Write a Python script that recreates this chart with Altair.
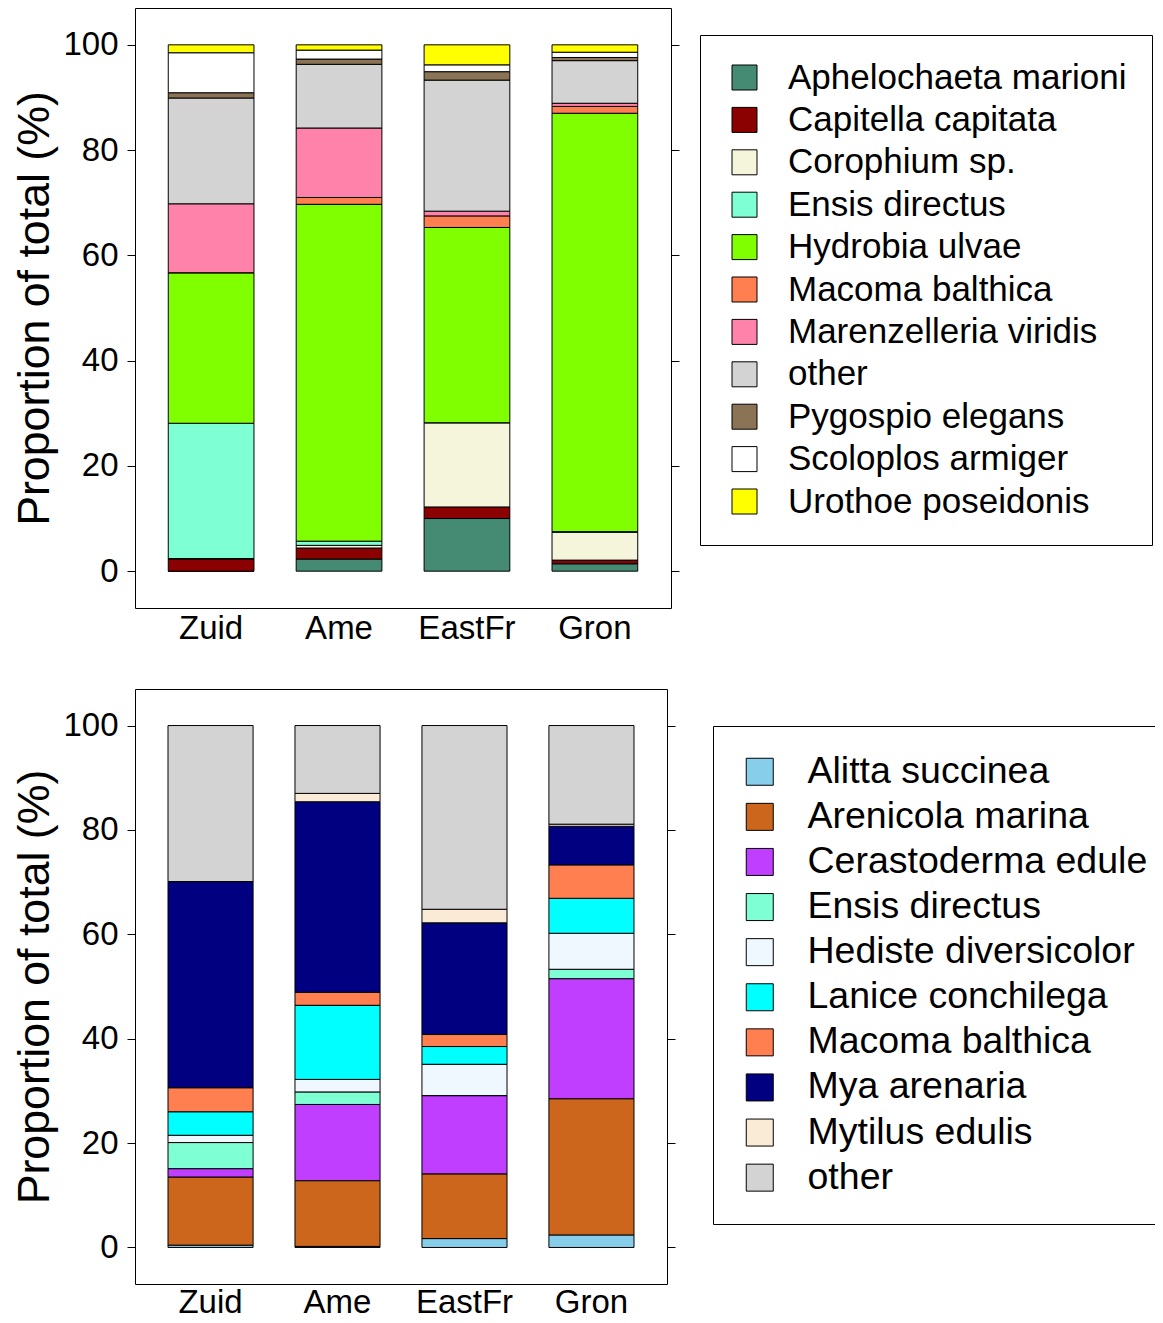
import altair as alt
import pandas as pd

sites = ["Zuid", "Ame", "EastFr", "Gron"]
y_ticks = [0, 20, 40, 60, 80, 100]

top_species = [
    "Aphelochaeta marioni", "Capitella capitata", "Corophium sp.", "Ensis directus",
    "Hydrobia ulvae", "Macoma balthica", "Marenzelleria viridis", "other",
    "Pygospio elegans", "Scoloplos armiger", "Urothoe poseidonis",
]
top_colors = [
    "#458B74", "#8B0000", "#F5F5DC", "#7FFFD4", "#7FFF00", "#FF7F50",
    "#FF82AB", "#D3D3D3", "#8B7355", "#FFFFFF", "#FFFF00",
]
# values per species in site order Zuid, Ame, EastFr, Gron
aphelochaeta = [0.0, 2.3, 10.0, 1.4]
capitella = [2.3, 2.1, 2.2, 0.7]
corophium = [0.1, 0.5, 16.0, 5.3]
ensis_top = [25.7, 0.8, 0.0, 0.1]
hydrobia = [28.6, 64.0, 37.1, 79.5]
macoma_top = [0.0, 1.3, 2.2, 1.3]
marenzelleria = [13.1, 13.2, 0.9, 0.6]
other_top = [20.1, 12.1, 24.9, 8.1]
pygospio = [1.0, 1.0, 1.6, 0.6]
scoloplos = [7.6, 1.7, 1.3, 1.0]
urothoe = [1.5, 1.0, 3.8, 1.4]
top_values = [aphelochaeta, capitella, corophium, ensis_top, hydrobia, macoma_top,
              marenzelleria, other_top, pygospio, scoloplos, urothoe]

bot_species = [
    "Alitta succinea", "Arenicola marina", "Cerastoderma edule", "Ensis directus",
    "Hediste diversicolor", "Lanice conchilega", "Macoma balthica", "Mya arenaria",
    "Mytilus edulis", "other",
]
bot_colors = [
    "#87CEEB", "#CD661D", "#BF3EFF", "#7FFFD4", "#F0F8FF", "#00FFFF",
    "#FF7F50", "#000080", "#FAEBD7", "#D3D3D3",
]
alitta = [0.45, 0.2, 1.7, 2.4]
arenicola = [13.05, 12.6, 12.4, 26.1]
cerastoderma = [1.6, 14.6, 15.0, 23.0]
ensis_bot = [5.0, 2.4, 0.0, 1.8]
hediste = [1.4, 2.4, 6.0, 6.9]
lanice = [4.5, 14.2, 3.4, 6.7]
macoma_bot = [4.6, 2.5, 2.3, 6.4]
mya = [39.5, 36.5, 21.4, 7.4]
mytilus = [0.0, 1.6, 2.6, 0.4]
other_bot = [29.9, 13.0, 35.2, 18.9]
bot_values = [alitta, arenicola, cerastoderma, ensis_bot, hediste, lanice,
              macoma_bot, mya, mytilus, other_bot]

FONT = "Liberation Sans"


def make_df(species, values):
    rows = []
    for i, (sp, vals) in enumerate(zip(species, values)):
        for site, v in zip(sites, vals):
            rows.append({"site": site, "species": sp, "idx": i, "value": v})
    return pd.DataFrame(rows)


def panel(species, values, colors, w, h, lx, ly, lsize, sym, lpad, loff, soff, rowpad, xpad):
    df = make_df(species, values)
    yscale = alt.Scale(domain=[-7, 107], nice=False, zero=False)
    bars = alt.Chart(df).mark_bar(stroke="black", strokeWidth=1).encode(
        x=alt.X("site:N", sort=sites,
                scale=alt.Scale(paddingInner=0.33, paddingOuter=0.26),
                axis=alt.Axis(title=None, ticks=False, domain=False, labelAngle=0,
                              labelFontSize=33, labelFont=FONT, labelColor="black",
                              labelPadding=xpad)),
        y=alt.Y("value:Q", stack="zero", scale=yscale,
                axis=alt.Axis(values=y_ticks, title="Proportion of total (%)",
                              titleFontSize=44.7, titleFont=FONT, titleFontWeight="normal",
                              titleColor="black", titlePadding=5,
                              labelFontSize=33, labelFont=FONT, labelColor="black",
                              labelPadding=9, tickSize=8, tickColor="black",
                              domain=False, grid=False)),
        color=alt.Color("species:N", scale=alt.Scale(domain=species, range=colors),
                        legend=alt.Legend(orient="none", legendX=lx, legendY=ly, title=None,
                                          symbolType="square", symbolSize=sym,
                                          symbolStrokeColor="black", symbolStrokeWidth=1,
                                          labelFontSize=lsize, labelFont=FONT,
                                          labelColor="black", labelLimit=1000,
                                          labelOffset=loff, symbolOffset=soff,
                                          padding=lpad, rowPadding=rowpad,
                                          strokeColor="black", fillColor="white")),
        order=alt.Order("idx:Q", sort="ascending"),
    )
    right = alt.Chart(pd.DataFrame({"v": y_ticks})).mark_point(opacity=0).encode(
        y=alt.Y("v:Q", scale=yscale,
                axis=alt.Axis(orient="right", values=y_ticks, labels=False, title=None,
                              tickSize=8, tickColor="black", domain=False, grid=False)),
    )
    return alt.layer(bars, right).resolve_axis(y="independent").properties(width=w, height=h)


top = panel(top_species, top_values, top_colors, 536, 600, 565, 27, 35, 625, 25, 26, 2, 6.4, 4)
bottom = panel(bot_species, bot_values, bot_colors, 532, 595, 578, 37, 37.5, 729, 27, 29, 1, 6.1, 2)

chart = alt.vconcat(top, bottom, spacing=42).resolve_scale(color="independent").properties(
    autosize=alt.AutoSizeParams(type="none"),
    padding={"left": 127, "top": 0, "right": 1020, "bottom": 1307},
).configure(
    background="white",
    view=alt.ViewConfig(stroke="black", strokeWidth=1),
)

chart.save("out.html", embed_options={"renderer": "svg", "actions": False})
